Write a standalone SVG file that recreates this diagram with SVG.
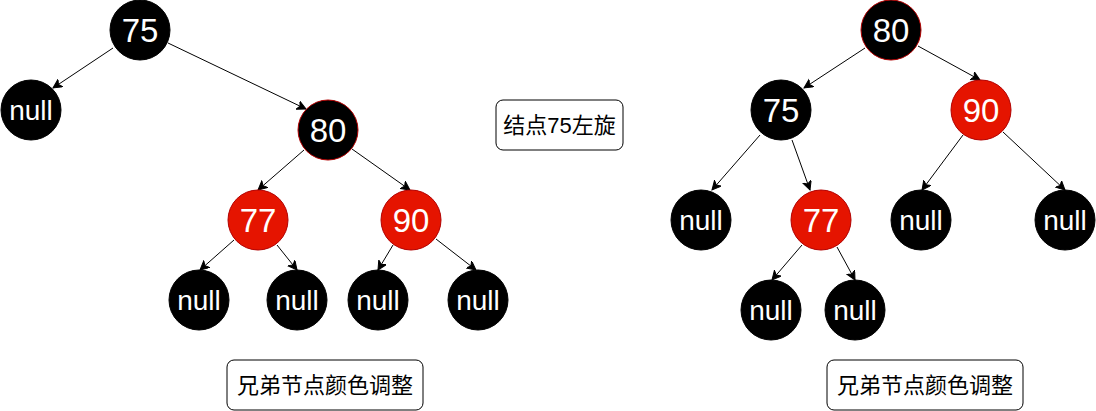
<svg xmlns="http://www.w3.org/2000/svg" width="1096" height="411" viewBox="0 0 1096 411">
<style>
.blk{fill:#000000;stroke:#000000;stroke-width:1}
.blkr{fill:#000000;stroke:#B20000;stroke-width:1}
.red{fill:#E51400;stroke:#B20000;stroke-width:1}
.num{font-family:"Liberation Sans",Arial,sans-serif;font-size:33px;fill:#ffffff;text-anchor:middle;dominant-baseline:central}
.nul{font-family:"Liberation Sans",Arial,sans-serif;font-size:28px;fill:#ffffff;text-anchor:middle;dominant-baseline:central}
.lbl{fill:#ffffff;stroke:#000000;stroke-width:1}
.lt{font-family:"Liberation Sans","Noto Sans CJK SC",sans-serif;font-size:22px;fill:#000000;text-anchor:middle;dominant-baseline:central}
.e{stroke:#000000;stroke-width:1;fill:none;marker-end:url(#arr)}
</style>
<defs>
<marker id="arr" markerUnits="userSpaceOnUse" markerWidth="12" markerHeight="10" refX="9" refY="4.5" orient="auto">
<path d="M0,0 L9,4.5 L0,9 L2.5,4.5 Z" fill="#000000" stroke="#000000" stroke-width="1"/>
</marker>
</defs>
<g id="connectors">
<line class="e" x1="113" y1="48" x2="53" y2="88"/>
<line class="e" x1="168" y1="43" x2="306" y2="109"/>
<line class="e" x1="304" y1="150" x2="258" y2="190"/>
<line class="e" x1="352" y1="149" x2="410" y2="190"/>
<line class="e" x1="234" y1="240" x2="200" y2="270"/>
<line class="e" x1="277" y1="245" x2="297" y2="270"/>
<line class="e" x1="393" y1="245" x2="378" y2="270"/>
<line class="e" x1="436" y1="239" x2="476" y2="270"/>
<line class="e" x1="865" y1="48" x2="804" y2="88"/>
<line class="e" x1="918" y1="46" x2="980" y2="80"/>
<line class="e" x1="760" y1="135" x2="712" y2="190"/>
<line class="e" x1="792" y1="140" x2="810" y2="190"/>
<line class="e" x1="963" y1="135" x2="922" y2="190"/>
<line class="e" x1="1003" y1="132" x2="1065" y2="190"/>
<line class="e" x1="802" y1="245" x2="772" y2="280"/>
<line class="e" x1="837" y1="247" x2="855" y2="280"/>
</g>
<g id="L75"><circle class="blk" cx="140" cy="30" r="30"/><text class="num" x="140" y="30">75</text></g>
<g id="Lnull0"><circle class="blk" cx="31" cy="110" r="30"/><text class="nul" x="31" y="110">null</text></g>
<g id="L80"><circle class="blkr" cx="328" cy="130" r="30"/><text class="num" x="328" y="130">80</text></g>
<g id="L77"><circle class="red" cx="258" cy="220" r="30"/><text class="num" x="258" y="220">77</text></g>
<g id="L90"><circle class="red" cx="411" cy="220" r="30"/><text class="num" x="411" y="220">90</text></g>
<g id="Lnull1"><circle class="blk" cx="199" cy="300" r="30"/><text class="nul" x="199" y="300">null</text></g>
<g id="Lnull2"><circle class="blk" cx="297" cy="300" r="30"/><text class="nul" x="297" y="300">null</text></g>
<g id="Lnull3"><circle class="blk" cx="378" cy="300" r="30"/><text class="nul" x="378" y="300">null</text></g>
<g id="Lnull4"><circle class="blk" cx="478" cy="300" r="30"/><text class="nul" x="478" y="300">null</text></g>
<g id="label-rotate"><rect class="lbl" x="496" y="100" width="127" height="50" rx="7"/><text class="lt" x="559.5" y="125">结点75左旋</text></g>
<g id="label-left"><rect class="lbl" x="227" y="360" width="196" height="50" rx="7"/><text class="lt" x="325" y="385">兄弟节点颜色调整</text></g>
<g id="R80"><circle class="blkr" cx="891" cy="30" r="30"/><text class="num" x="891" y="30">80</text></g>
<g id="R75"><circle class="blk" cx="781" cy="110" r="30"/><text class="num" x="781" y="110">75</text></g>
<g id="R90"><circle class="red" cx="981" cy="110" r="30"/><text class="num" x="981" y="110">90</text></g>
<g id="Rnull0"><circle class="blk" cx="701" cy="220" r="30"/><text class="nul" x="701" y="220">null</text></g>
<g id="R77"><circle class="red" cx="821" cy="220" r="30"/><text class="num" x="821" y="220">77</text></g>
<g id="Rnull1"><circle class="blk" cx="921" cy="220" r="30"/><text class="nul" x="921" y="220">null</text></g>
<g id="Rnull2"><circle class="blk" cx="1065" cy="220" r="30"/><text class="nul" x="1065" y="220">null</text></g>
<g id="Rnull3"><circle class="blk" cx="771" cy="310" r="30"/><text class="nul" x="771" y="310">null</text></g>
<g id="Rnull4"><circle class="blk" cx="855" cy="310" r="30"/><text class="nul" x="855" y="310">null</text></g>
<g id="label-right"><rect class="lbl" x="827" y="360" width="196" height="50" rx="7"/><text class="lt" x="925" y="385">兄弟节点颜色调整</text></g>
</svg>
